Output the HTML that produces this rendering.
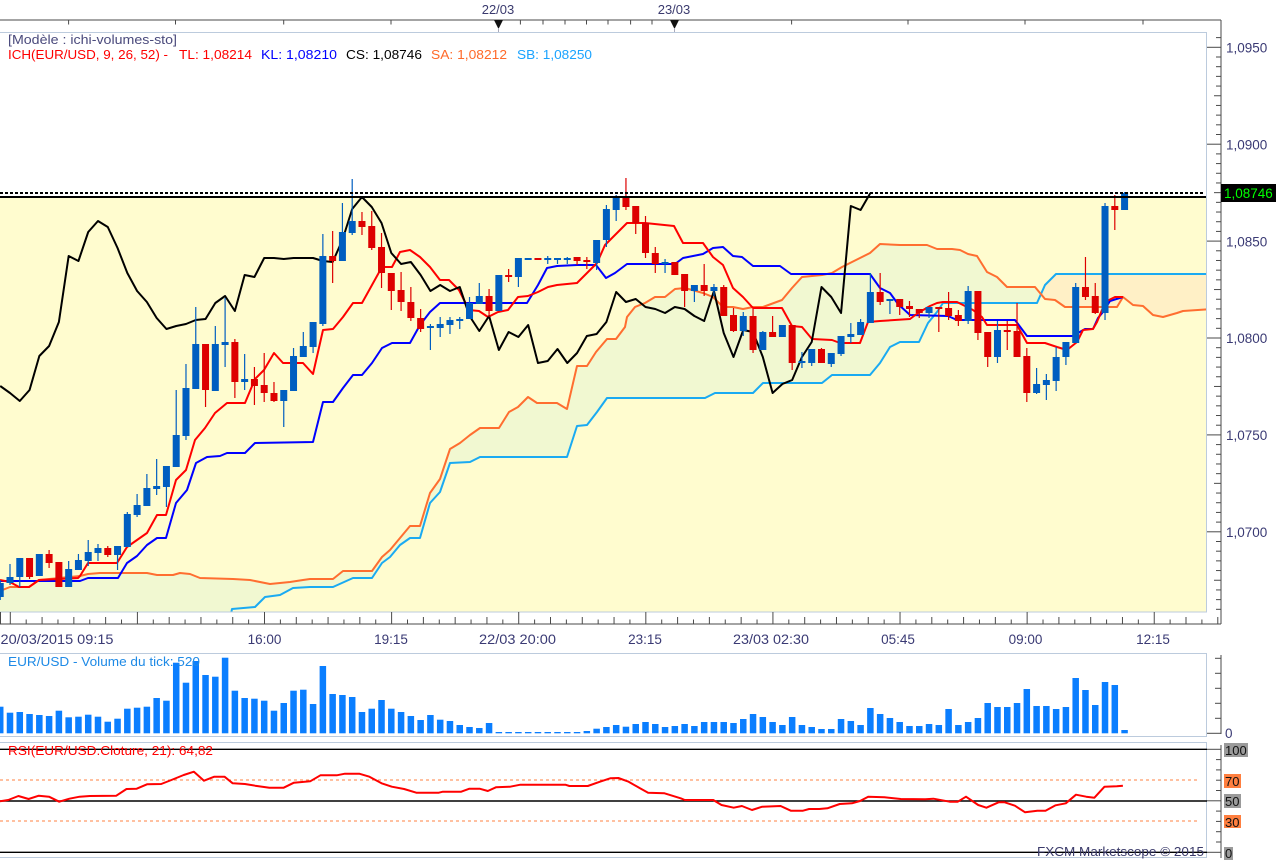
<!DOCTYPE html>
<html><head><meta charset="utf-8">
<style>
html,body{margin:0;padding:0;background:#fff;}
body{width:1279px;height:860px;overflow:hidden;position:relative;}
svg{position:absolute;left:0;top:0;}
text{font-family:"Liberation Sans",sans-serif;}
</style></head><body>
<svg id="s" width="1279" height="860" viewBox="0 0 1279 860" xmlns="http://www.w3.org/2000/svg">
<defs>
<clipPath id="pc"><rect x="0" y="32" width="1207" height="580"/></clipPath>
<clipPath id="cg"><rect x="-10" y="32" width="1051" height="580"/></clipPath>
<clipPath id="cp"><rect x="1041" y="32" width="166" height="580"/></clipPath>
</defs>
<rect x="0" y="197" width="1207" height="415" fill="#FFFCCF"/>
<g clip-path="url(#pc)">
<g id="cloud"></g>
<g id="lines"></g>
<g id="candles"></g>
</g>
<line x1="0" y1="193" x2="1204" y2="193" stroke="#000" stroke-width="2" stroke-dasharray="3,2"/>
<line x1="0" y1="197" x2="1207" y2="197" stroke="#000" stroke-width="2"/>
<rect x="-1" y="32.5" width="1207.5" height="579.5" fill="none" stroke="#BCCBDD" stroke-width="1"/>
<rect x="-1" y="653.5" width="1207.5" height="83" fill="none" stroke="#BCCBDD" stroke-width="1"/>
<rect x="-1" y="742.5" width="1207.5" height="115" fill="none" stroke="#BCCBDD" stroke-width="1"/>
<g id="axes" stroke="#4a4a4a" stroke-width="1"></g>
<g id="vol"></g>
<g id="rsi"></g>

<!-- top labels -->
<text x="498" y="14" font-size="13" fill="#3a3a6e" text-anchor="middle">22/03</text>
<text x="674" y="14" font-size="13" fill="#3a3a6e" text-anchor="middle">23/03</text>
<polygon points="494,20 503,20 498.5,29" fill="#111"/>
<polygon points="670,20 679,20 674.5,29" fill="#111"/>
<line x1="498.5" y1="28" x2="498.5" y2="32" stroke="#aab"/>
<line x1="674.5" y1="28" x2="674.5" y2="32" stroke="#aab"/>

<text x="8" y="44" font-size="13" fill="#4a4a7c" textLength="169" lengthAdjust="spacingAndGlyphs">[Modèle : ichi-volumes-sto]</text>
<text x="8" y="59" font-size="13" fill="#FF0000" textLength="160" lengthAdjust="spacingAndGlyphs">ICH(EUR/USD, 9, 26, 52) -</text>
<text x="179" y="59" font-size="13" fill="#FF0000" textLength="73" lengthAdjust="spacingAndGlyphs">TL: 1,08214</text>
<text x="261" y="59" font-size="13" fill="#0000FF" textLength="76" lengthAdjust="spacingAndGlyphs">KL: 1,08210</text>
<text x="346" y="59" font-size="13" fill="#000000" textLength="76" lengthAdjust="spacingAndGlyphs">CS: 1,08746</text>
<text x="431" y="59" font-size="13" fill="#FF6A2A" textLength="76" lengthAdjust="spacingAndGlyphs">SA: 1,08212</text>
<text x="517" y="59" font-size="13" fill="#1AA3FF" textLength="75" lengthAdjust="spacingAndGlyphs">SB: 1,08250</text>

<!-- price labels -->
<g font-size="13.5" fill="#3a3a74">
<text x="1226" y="52.5">1,0950</text>
<text x="1226" y="149.4">1,0900</text>
<text x="1226" y="246.3">1,0850</text>
<text x="1226" y="343.2">1,0800</text>
<text x="1226" y="440.1">1,0750</text>
<text x="1226" y="537">1,0700</text>
</g>
<rect x="1221" y="184" width="55" height="18" fill="#000"/>
<text x="1224" y="198" font-size="13.5" fill="#00FF00">1,08746</text>

<!-- time labels -->
<g font-size="13.5" fill="#3a3a74">
<text x="0.5" y="644" textLength="113" lengthAdjust="spacingAndGlyphs">20/03/2015 09:15</text>
<text x="264.5" y="644" text-anchor="middle">16:00</text>
<text x="391" y="644" text-anchor="middle">19:15</text>
<text x="479" y="644" textLength="77" lengthAdjust="spacingAndGlyphs">22/03 20:00</text>
<text x="645" y="644" text-anchor="middle">23:15</text>
<text x="733" y="644" textLength="76" lengthAdjust="spacingAndGlyphs">23/03 02:30</text>
<text x="898" y="644" text-anchor="middle">05:45</text>
<text x="1025.5" y="644" text-anchor="middle">09:00</text>
<text x="1153" y="644" text-anchor="middle">12:15</text>
</g>

<text x="8" y="666" font-size="13" fill="#1E8AE6" textLength="192" lengthAdjust="spacingAndGlyphs">EUR/USD - Volume du tick: 520</text>
<text x="1225" y="738" font-size="13.5" fill="#3a3a74">0</text>

<text x="8" y="755" font-size="13" fill="#FF0000" textLength="205" lengthAdjust="spacingAndGlyphs">RSI(EUR/USD.Cloture, 21): 64,82</text>

<rect x="1224" y="743" width="24" height="14" fill="#9a9a9a"/>
<text x="1225" y="755" font-size="13" fill="#111">100</text>
<rect x="1224" y="774" width="17" height="14" fill="#FF7F3F"/>
<text x="1225" y="786" font-size="13" fill="#111">70</text>
<rect x="1224" y="794" width="17" height="14" fill="#9a9a9a"/>
<text x="1225" y="806" font-size="13" fill="#111">50</text>
<rect x="1224" y="815" width="17" height="13" fill="#FF7F3F"/>
<text x="1225" y="827" font-size="13" fill="#111">30</text>
<rect x="1224" y="847" width="9" height="13" fill="#9a9a9a"/>
<text x="1225" y="858" font-size="13" fill="#111">0</text>

<text x="1037" y="856" font-size="13" fill="#3a3a6a" textLength="167" lengthAdjust="spacingAndGlyphs">FXCM Marketscope © 2015</text>
</svg>
<script>
(function(){
var NS="http://www.w3.org/2000/svg";
function el(t,a,p){var e=document.createElementNS(NS,t);for(var k in a)e.setAttribute(k,a[k]);p.appendChild(e);return e;}
function X(k){return 10+k*9.777;}
function pts(a){return a.map(function(p){return p[0]+","+p[1];}).join(" ");}
var C=[
[-1,'b',583,597,580,600],[0,'b',577,583,564,585],[1,'b',558,577,558,587],[2,'r',558,577,558,579],
[3,'b',554,576,554,576],[4,'r',554,563,550,568],[5,'r',562,587,562,587],[6,'b',569,587,561,587],
[7,'b',560,570,554,570],[8,'b',552,561,540,566],[9,'b',548,553,544,561],[10,'r',548,555,546,557],
[11,'b',546,555,546,570],[12,'b',514,547,512,547],[13,'b',505,515,494,517],[14,'b',488,506,474,506],
[15,'b',486,489,459,495],[16,'b',466,487,466,507],[17,'b',435,467,390,467],[18,'b',388,436,364,440],
[19,'b',344,389,307,389],[20,'r',344,390,344,407],[21,'b',344,391,326,391],[22,'b',342,345,298,367],
[23,'r',342,382,339,398],[24,'b',379,382,354,390],[25,'r',379,386,367,405],[26,'r',385,393,353,402],
[27,'r',393,401,382,402],[28,'b',390,401,390,427],[29,'b',356,391,348,391],[30,'b',346,357,332,357],
[31,'b',322,347,322,353],[32,'b',256,324,234,326],[33,'r',256,261,231,283],[34,'b',232,261,203,261],
[35,'b',221,233,179,235],[36,'r',221,227,212,235],[37,'r',226,248,211,250],[38,'r',247,273,233,288],
[39,'r',273,291,273,310],[40,'r',290,302,272,311],[41,'r',302,318,287,321],[42,'r',318,329,309,332],
[43,'b',326,328,324,350],[44,'b',324,328,317,337],[45,'b',320,325,317,334],[46,'b',319,321,317,329],
[47,'b',303,319,297,319],[48,'b',296,304,283,304],[49,'r',296,311,289,317],[50,'b',275,311,275,311],
[51,'r',275,277,269,282],[52,'b',258,277,258,287],[53,'b',258,259,258,259],[54,'r',258,259,258,259],
[55,'b',258,259,256,264],[56,'b',258,259,258,264],[57,'b',258,259,257,264],[58,'r',257,261,257,265],
[59,'r',260,262,257,269],[60,'b',240,263,240,270],[61,'b',209,240,205,247],[62,'b',197,210,195,221],
[63,'r',197,207,178,210],[64,'r',206,223,206,234],[65,'r',223,253,216,258],[66,'r',253,264,247,273],
[67,'b',262,264,259,273],[68,'r',262,275,262,275],[69,'r',274,291,274,307],[70,'b',285,291,285,302],
[71,'r',285,291,264,296],[72,'b',287,291,284,296],[73,'r',287,316,285,316],[74,'r',315,331,308,332],
[75,'b',316,331,312,336],[76,'r',316,350,309,353],[77,'b',332,350,331,350],[78,'r',332,337,316,337],
[79,'b',325,337,325,337],[80,'r',325,363,325,370],[81,'b',361,363,352,368],[82,'b',349,363,349,366],
[83,'r',349,363,348,363],[84,'b',353,364,353,367],[85,'b',336,354,336,356],[86,'b',334,337,323,343],
[87,'b',322,335,319,335],[88,'b',292,323,273,323],[89,'r',292,302,273,305],[90,'b',299,301,299,314],
[91,'r',299,307,299,315],[92,'r',306,309,301,317],[93,'r',309,313,309,318],[94,'b',307,313,307,318],
[95,'r',307,309,307,332],[96,'r',308,316,292,320],[97,'r',315,321,310,326],[98,'b',291,321,286,324],
[99,'r',291,333,291,340],[100,'r',332,357,332,367],[101,'b',330,357,321,363],[102,'r',330,332,321,350],
[103,'r',331,357,303,357],[104,'r',356,393,348,402],[105,'b',384,393,368,394],[106,'b',380,385,374,400],
[107,'b',357,381,347,391],[108,'b',342,357,342,365],[109,'b',287,343,283,343],[110,'r',287,297,257,300],
[111,'r',296,313,283,314],[112,'b',206,313,203,320],[113,'r',206,210,195,230],[114,'b',193,210,192,210]
];
var close={};C.forEach(function(c){close[c[0]]=(c[1]=='b')?c[2]:c[3];});

var SA=[[-5,593],[0,591],[10,587],[29,587],[39,580],[80,576],[88,574],[100,573],[147,573],[157,575],[173,575],[180,573],[190,574],[200,578],[233,579],[250,580],[270,584],[290,582],[303,580],[310,579],[333,579],[343,571],[372,571],[382,557],[390,550],[400,538],[410,526],[420,526],[430,493],[440,479],[450,449],[460,443],[470,435],[480,428],[499,428],[509,412],[518,407],[528,397],[537,403],[557,403],[567,409],[577,366],[587,366],[596,352],[607,339],[616,339],[625,327],[627,317],[635,307],[645,303],[655,297],[665,297],[675,289],[685,288],[703,293],[713,297],[723,307],[733,307],[743,309],[753,307],[763,307],[782,300],[792,288],[802,277],[822,275],[832,273],[842,267],[860,258],[870,253],[880,244],[900,245],[927,245],[937,249],[952,249],[960,250],[968,254],[977,256],[987,272],[997,277],[1007,287],[1035,287],[1045,299],[1055,300],[1065,307],[1117,307],[1123,297],[1133,305],[1143,306],[1153,315],[1163,317],[1177,313],[1183,311],[1212,309]];
var SB=[[-5,640],[226,640],[232,609],[255,607],[265,597],[280,595],[293,588],[310,587],[333,587],[353,578],[372,578],[382,563],[390,557],[400,545],[410,538],[420,538],[430,503],[440,492],[450,463],[470,462],[480,457],[567,457],[577,426],[587,425],[597,412],[607,398],[705,398],[715,393],[753,393],[763,383],[822,383],[832,375],[870,375],[880,363],[890,347],[900,342],[919,342],[928,323],[937,312],[943,303],[1037,303],[1045,285],[1056,274],[1212,274]];
var TK=[[0,580],[10,582],[19,587],[29,587],[39,580],[78,578],[80,576],[88,563],[117,563],[127,547],[137,540],[147,533],[157,515],[166,515],[176,480],[186,470],[195,440],[205,428],[215,413],[227,403],[245,403],[255,379],[264,370],[274,353],[283,363],[303,363],[313,374],[323,330],[333,329],[343,317],[353,303],[362,303],[372,285],[382,267],[392,267],[400,252],[410,250],[420,257],[430,267],[440,280],[449,280],[459,290],[469,310],[479,311],[488,317],[498,312],[508,310],[518,297],[528,296],[538,292],[548,287],[557,285],[577,283],[587,273],[597,263],[605,245],[615,235],[627,223],[645,223],[674,226],[683,243],[703,243],[713,257],[723,265],[733,288],[743,297],[753,308],[782,308],[792,326],[802,327],[812,339],[832,340],[840,343],[860,343],[868,322],[880,321],[910,319],[918,313],[930,306],[937,303],[943,302],[957,302],[963,305],[973,310],[982,317],[987,325],[1017,325],[1027,343],[1045,343],[1057,347],[1067,350],[1077,342],[1083,330],[1093,329],[1097,322],[1102,310],[1107,301],[1115,297],[1123,297]];
var KJ=[[0,581],[80,581],[88,578],[118,578],[127,563],[137,556],[147,545],[157,538],[166,538],[176,503],[187,490],[196,463],[207,457],[220,456],[227,453],[245,453],[255,443],[313,442],[323,402],[333,402],[343,388],[353,375],[362,375],[372,363],[382,348],[392,343],[410,343],[420,325],[430,312],[440,303],[527,303],[538,285],[547,268],[557,266],[577,265],[596,265],[606,278],[615,273],[627,264],[675,264],[683,258],[703,254],[713,248],[723,247],[733,256],[742,257],[753,266],[780,266],[791,274],[870,274],[880,288],[890,293],[898,304],[910,315],[948,316],[957,320],[1015,320],[1027,336],[1073,336],[1078,333],[1085,329],[1093,329],[1098,318],[1103,312],[1110,301],[1123,297]];
var CH=[];for(var k=-1;k<=88;k++){CH.push([X(k),close[k+26]]);}

var cloud=document.getElementById('cloud');
var poly=SA.concat(SB.slice().reverse());
var g1=el('g',{'clip-path':'url(#cg)'},cloud);
el('polygon',{points:pts(poly),fill:'#F1F8D1',stroke:'none'},g1);
var g2=el('g',{'clip-path':'url(#cp)'},cloud);
el('polygon',{points:pts(poly),fill:'#FFF0C6',stroke:'none'},g2);

var L=document.getElementById('lines');
function pl(a,c){el('polyline',{points:pts(a),fill:'none',stroke:c,'stroke-width':2,'stroke-linejoin':'round'},L);}
pl(SB,'#1AAAF2');pl(SA,'#FF6E30');pl(KJ,'#0000FF');pl(TK,'#FF0000');pl(CH,'#000000');

var CG=document.getElementById('candles');
C.forEach(function(c){
  var x=X(c[0]);var col=c[1]=='b'?'#005EC0':'#DD0000';
  el('line',{x1:x,y1:c[4],x2:x,y2:c[5],stroke:col,'stroke-width':1.2},CG);
  var h=Math.max(c[3]-c[2],2);
  el('rect',{x:x-3.5,y:c[2],width:7,height:h,fill:col},CG);
});

var V=[706.7,712.7,712,714,715,716,710.7,717.3,716.7,714.7,716.7,721.7,718.7,708.7,707.7,706.7,698,700.7,662.7,682.7,661,675,676.7,657.7,690.7,698,698.7,700.7,710.7,703,690.7,689.7,704,666,694,695,697,712,708.7,700,708.7,712,716,720,715,719.7,721,725,727,728,723,732,732,732,732,732,732,732,732,732,731,728.7,727,725,726.7,724,722,724,727,726,724,726,722,722,722,723,719,714,717,722,725,717,725,727,729,729,719,721,725,708,714,718,722,726,726,724,725,709,725,722,718,703,707,707,703,689,706,706,709,707,678,690,705,682,685,730];
var VG=document.getElementById('vol');
V.forEach(function(t,i){var k=i-1;var x=X(k);
  el('rect',{x:x-3.25,y:t,width:6.5,height:733.3-t,fill:'#0A7EFF'},VG);});

var R=document.getElementById('rsi');
el('line',{x1:0,y1:749.3,x2:1207,y2:749.3,stroke:'#000','stroke-width':1.4},R);
el('line',{x1:0,y1:801,x2:1207,y2:801,stroke:'#000','stroke-width':1.4},R);
el('line',{x1:0,y1:852.3,x2:1207,y2:852.3,stroke:'#000','stroke-width':1.4},R);
el('line',{x1:0,y1:780,x2:1200,y2:780,stroke:'#FF8040','stroke-width':1,'stroke-dasharray':'3,3'},R);
el('line',{x1:0,y1:821,x2:1200,y2:821,stroke:'#FF8040','stroke-width':1,'stroke-dasharray':'3,3'},R);
var RS=[[0,801.3],[8.2,800],[18.4,796],[28.6,799],[38.8,795.7],[49,796.7],[59.2,801.7],[69.4,798.7],[79.6,796.7],[89.8,796],[116.3,795.7],[126.5,789],[136.7,788.7],[147,784.3],[161.2,784],[171.4,780],[183.7,775],[193.9,771.7],[204,780.7],[214.3,776.7],[224.5,776.7],[232.7,783.3],[244.9,784],[255.1,785.7],[269.4,787.7],[283.7,787.7],[293.9,782.7],[310.2,781.3],[320.4,775.3],[336.7,775.3],[344.9,773.7],[359.2,773.7],[369.4,776.7],[381.6,783.3],[391.8,786.7],[404.1,789],[416.3,792.7],[438.8,792.7],[442.9,791.7],[461.2,791.7],[469.4,788.7],[479.6,788.7],[487.8,791],[495.9,787.3],[510.2,786.7],[520.4,784.7],[565.3,784.7],[569.4,786],[587.8,786],[600,781.7],[610.2,778.3],[618.4,778],[628.6,781.7],[640,788.3],[648.1,792.7],[664.5,793.3],[680.7,798.3],[684.8,800],[713.3,800],[721.5,805],[733.7,807.7],[741.9,806],[752,810],[762.2,806.7],[780.6,806],[790.8,810.7],[803,810.7],[809.1,809],[819.3,809],[827.4,808.3],[839.7,804],[851.9,803.3],[860,801],[868.2,796.7],[884.5,797.3],[900.8,799],[925.2,799.3],[933.4,798.7],[949.7,801.7],[957.8,801.7],[966,796.7],[978.2,805],[986.4,807.7],[998.6,802.3],[1004.7,802.3],[1014.9,805.7],[1025.1,812.3],[1037.3,810.7],[1045.5,810.7],[1055.6,805.3],[1065.8,803.3],[1076,794.7],[1086.2,796.7],[1094.4,797.7],[1104.5,786.7],[1116.8,786.3],[1122.9,785.7]];
el('polyline',{points:pts(RS),fill:'none',stroke:'#FF0000','stroke-width':2,'stroke-linejoin':'round'},R);

var A=document.getElementById('axes');
function ln(x1,y1,x2,y2){el('line',{x1:x1,y1:y1,x2:x2,y2:y2},A);}
ln(0,20,1221,20);ln(1221,20,1221,624);ln(0,624,1221,624);
[68.6,175.5,283.7,391,520.4,543,565,586.5,608,630.6,652,791.6,908,1025,1143].forEach(function(x){ln(x,20,x,24.5);});
for(var n=-1;n<=58;n++){var y=47.3+n*9.69;if(y<22||y>611)continue;
  var len=(n%10==0)?14:((n%5==0)?7:5);ln(1221-len,y,1221,y);}
ln(0.5,612,0.5,624);
for(var m=0;m<=76;m++){var x=10.3+m*15.888;if(x>1219)break;
  var top=(m%8==0)?612:((m%2==0)?617:619.5);ln(x,top,x,624);}
ln(1221,655,1221,734);
[658.3,673.3,688.3,703.3,718.3].forEach(function(y){ln(1215,y,1221,y);});
ln(1207,733.3,1221,733.3);
ln(1221,745,1221,858);
for(var j=0;j<=10;j++){var y=749.3+j*10.3;var len=(j==0||j==10||j==5)?14:5;ln(1221-len,y,1221,y);}
})();
</script>
</body></html>
